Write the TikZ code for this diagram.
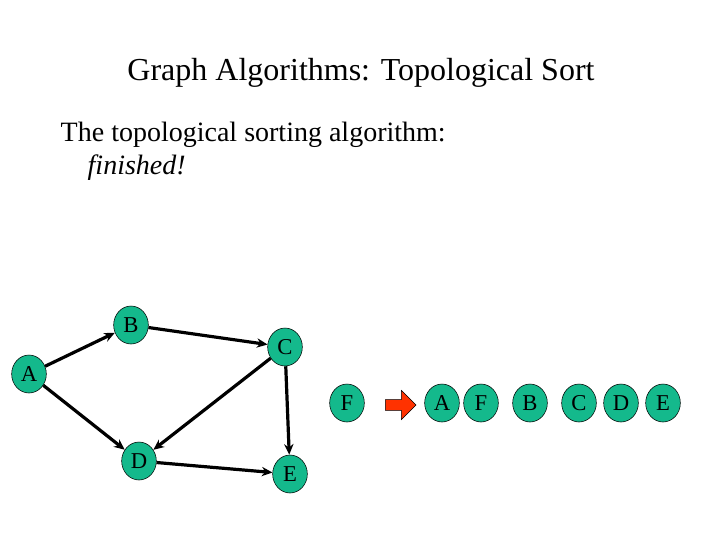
\documentclass[tikz,border=0pt]{standalone}
\usepackage{fontspec}
\setmainfont{Liberation Serif}
\usetikzlibrary{shapes.geometric,shapes.arrows,arrows.meta}
\definecolor{nodegreen}{RGB}{20,185,140}
\definecolor{arrred}{RGB}{255,50,0}
\begin{document}
\begin{tikzpicture}[x=0.75pt,y=-0.75pt,
  vert/.style={ellipse,draw=black,fill=nodegreen,minimum width=26pt,minimum height=28.5pt,inner sep=0pt,font=\fontsize{17}{17}\selectfont},
  edge/.style={line width=2.4pt,-{Stealth[length=8pt,width=7pt]}}]
\useasboundingbox (0,0) rectangle (720,540);
\node at (361,73) {\fontsize{24}{28}\selectfont Graph Algorithms: Topological Sort};
\node[anchor=west] at (56,135) {\fontsize{21}{25}\selectfont The topological sorting algorithm:};
\node[anchor=west] at (83,168) {\fontsize{21}{25}\selectfont\itshape finished!};
\node[vert] (A) at (29,374) {A};
\node[vert] (B) at (131,325) {B};
\node[vert] (C) at (285,347) {C};
\node[vert] (D) at (139,461) {D};
\node[vert] (E) at (290,474) {E};
\node[vert] (F) at (347,403) {F};
\draw[edge] (A) -- (B);
\draw[edge] (B) -- (C);
\draw[edge] (A) -- (D);
\draw[edge] (C) -- (D);
\draw[edge] (C) -- (E);
\draw[edge] (D) -- (E);
\node[single arrow,fill=arrred,draw=black,line width=0.3pt,minimum width=22pt,single arrow head extend=2pt,minimum height=23pt,inner sep=1pt] (arr) at (398,405) {};
\node[vert] (sA) at (442,403) {A};
\node[vert] (sF) at (481,403) {F};
\node[vert] (sB) at (530,403) {B};
\node[vert] (sC) at (579,403) {C};
\node[vert] (sD) at (621,403) {D};
\node[vert] (sE) at (663,403) {E};
\end{tikzpicture}
\end{document}
